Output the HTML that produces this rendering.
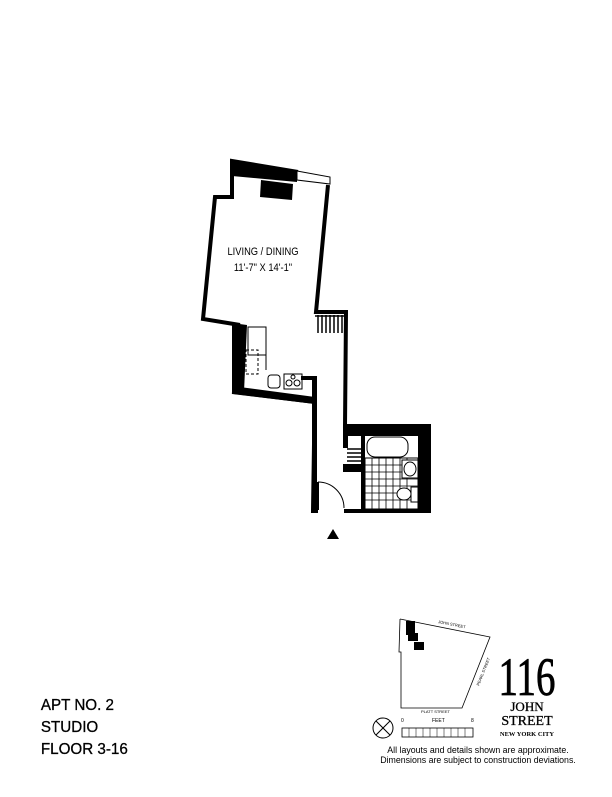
<!DOCTYPE html>
<html><head><meta charset="utf-8"><style>
body{margin:0;background:#fff;width:612px;height:792px;overflow:hidden;font-family:"Liberation Sans",sans-serif}
</style></head><body>
<svg width="612" height="792" viewBox="0 0 612 792" xmlns="http://www.w3.org/2000/svg">
<g fill="none" stroke="#000" stroke-width="4" stroke-linejoin="miter">
<polyline points="298,172 232,161 232,197 215,197 203,319 240,325"/>
<polyline points="328,185 316,312 346,312 345,426 429,426 429,511 344,511"/>
<polyline points="318,511 313,511 315,378 301,378"/>
<polyline points="240,325 234,392 315,402"/>
</g>
<polygon points="232,160 297,171 297,182 232,176" fill="#000"/>
<polygon points="261,180 293,184 292,200 260,197" fill="#000"/>
<polygon points="297,171 330,177 330,184 297,180" fill="#fff" stroke="#000" stroke-width="1"/>
<polygon points="232,323 247,325 244,392 232,390" fill="#000"/>
<polygon points="232,386 315,397 315,404 232,394" fill="#000"/>
<rect x="312" y="378" width="5" height="134" fill="#000"/>
<rect x="343" y="424" width="88" height="12" fill="#000"/>
<rect x="418" y="424" width="13" height="88" fill="#000"/>
<rect x="343" y="424" width="5" height="24" fill="#000"/>
<rect x="343" y="464" width="20" height="8" fill="#000"/>
<rect x="361" y="436" width="4" height="76" fill="#000"/>
<g stroke="#000" stroke-width="1.5">
<line x1="318" y1="315" x2="318" y2="333"/><line x1="322" y1="315" x2="322" y2="333"/><line x1="326" y1="315" x2="326" y2="333"/><line x1="330" y1="315" x2="330" y2="333"/><line x1="334" y1="315" x2="334" y2="333"/><line x1="338" y1="315" x2="338" y2="333"/><line x1="342" y1="315" x2="342" y2="333"/>
<line x1="315" y1="316" x2="345" y2="316"/>
<line x1="347" y1="449" x2="361" y2="449"/><line x1="347" y1="453" x2="361" y2="453"/><line x1="347" y1="457" x2="361" y2="457"/><line x1="347" y1="461" x2="361" y2="461"/>
</g>
<g fill="none" stroke="#000" stroke-width="1">
<rect x="248" y="327" width="18" height="28"/>
<rect x="246" y="350" width="12" height="24" stroke-dasharray="3,2"/>
<rect x="268" y="375" width="12" height="13" rx="3"/>
<rect x="284" y="374" width="18" height="15"/>
<circle cx="289" cy="383" r="3"/><circle cx="297" cy="383" r="3"/>
<circle cx="293" cy="377" r="2"/>
<line x1="266" y1="328" x2="266" y2="370"/>
</g>
<g fill="none" stroke="#000" stroke-width="1">
<rect x="367" y="437" width="41" height="20" rx="8"/>
<rect x="365" y="458" width="53" height="51"/>
<path d="M365 465H418M365 472H418M365 479H418M365 486H418M365 493H418M365 500H418M372 458V509M379 458V509M386 458V509M393 458V509M400 458V509M407 458V509" stroke-width="0.8"/>
</g>
<rect x="402" y="460" width="16" height="18" fill="#fff" stroke="#000"/>
<ellipse cx="410" cy="469" rx="6" ry="7" fill="#fff" stroke="#000"/>
<rect x="411" y="487" width="7" height="15" fill="#fff" stroke="#000"/>
<ellipse cx="404" cy="494" rx="7" ry="6" fill="#fff" stroke="#000"/>
<path d="M318 482 A26 26 0 0 1 344 508" fill="none" stroke="#000" stroke-width="1"/>
<line x1="318" y1="482" x2="318" y2="510" stroke="#000" stroke-width="2"/>
<polygon points="333,529 327,539 339,539" fill="#000"/>
<text x="263" y="255" font-size="11" text-anchor="middle" transform="translate(263 0) scale(0.85 1) translate(-263 0)">LIVING / DINING</text>
<text x="263" y="271" font-size="11" text-anchor="middle" transform="translate(263 0) scale(0.85 1) translate(-263 0)">11'-7" X 14'-1"</text>
<polyline points="400,619 490,637 462,708 401,708 401,652 399,652 400,619" fill="none" stroke="#000" stroke-width="0.8"/>
<rect x="406" y="621" width="9" height="14" fill="#000"/>
<rect x="408" y="633" width="10" height="8" fill="#000"/>
<rect x="414" y="642" width="10" height="8" fill="#000"/>
<text x="438" y="623" font-size="4" transform="rotate(11 438 623)">JOHN STREET</text>
<text x="479" y="686" font-size="4" transform="rotate(-68 479 686)">PEARL STREET</text>
<text x="421" y="713" font-size="4">PLATT STREET</text>
<circle cx="383" cy="728" r="10" fill="none" stroke="#000" stroke-width="1"/>
<line x1="376" y1="721" x2="390" y2="735" stroke="#000"/><line x1="390" y1="721" x2="376" y2="735" stroke="#000"/>
<text x="401" y="722" font-size="5">0</text><text x="432" y="722" font-size="5">FEET</text><text x="471" y="722" font-size="5">8</text>
<rect x="402" y="728" width="71" height="9" fill="none" stroke="#000" stroke-width="0.8"/>
<path d="M409 728V737M416 728V737M423 728V737M430 728V737M437 728V737M444 728V737M451 728V737M458 728V737M465 728V737" stroke="#000" stroke-width="0.5"/>
<text x="527" y="695" font-family="Liberation Serif" font-size="54" text-anchor="middle" stroke="#000" stroke-width="0.8" transform="translate(527 0) scale(0.72 1) translate(-527 0)">116</text>
<text x="527" y="711" font-family="Liberation Serif" font-size="13" text-anchor="middle" stroke="#000" stroke-width="0.3">JOHN</text>
<text x="527" y="725" font-family="Liberation Serif" font-size="14" text-anchor="middle" stroke="#000" stroke-width="0.3">STREET</text>
<text x="527" y="736" font-family="Liberation Serif" font-size="6.5" font-weight="bold" text-anchor="middle">NEW YORK CITY</text>
<text x="478" y="753" font-size="8.8" text-anchor="middle">All layouts and details shown are approximate.</text>
<text x="478" y="763" font-size="8.8" text-anchor="middle">Dimensions are subject to construction deviations.</text>
<g font-size="16" transform="scale(0.95 1)" stroke="#000" stroke-width="0.3">
<text x="43" y="710">APT NO. 2</text>
<text x="43" y="732">STUDIO</text>
<text x="43" y="754">FLOOR 3-16</text>
</g>
</svg>
</body></html>
